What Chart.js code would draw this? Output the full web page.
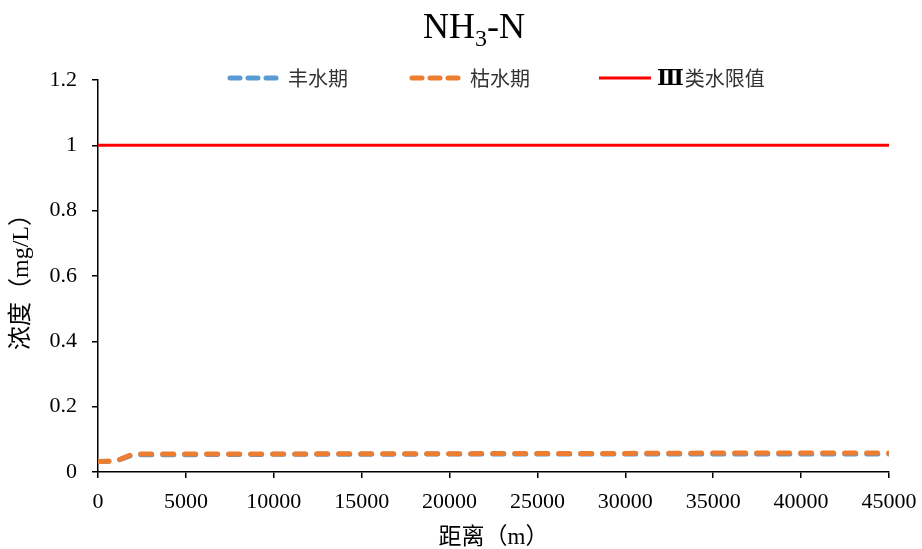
<!DOCTYPE html>
<html>
<head>
<meta charset="utf-8">
<script src="https://cdn.jsdelivr.net/npm/chart.js@4.4.1/dist/chart.umd.min.js"></script>
<style>
  html, body { margin: 0; padding: 0; background: #fff; }
  #wrap { width: 922px; height: 549px; }
</style>
</head>
<body>
<div id="wrap"><canvas id="nh3Chart" width="922" height="549"></canvas></div>
<script>
    // distance along the river (m)
    const distance = [0, 1000, 2000, 5000, 10000, 15000, 20000, 25000, 30000, 35000, 40000, 45000];
    // NH3-N concentration (mg/L)
    const wetSeason = [0.032, 0.033, 0.053, 0.053, 0.054, 0.054, 0.055, 0.055, 0.055, 0.055, 0.055, 0.055];
    const drySeason = [0.032, 0.033, 0.055, 0.055, 0.055, 0.056, 0.056, 0.057, 0.057, 0.058, 0.058, 0.058];
    // class III water quality limit
    const limitX = [0, 45000];
    const limitY = [1, 1];

    const xTicks = [0, 5000, 10000, 15000, 20000, 25000, 30000, 35000, 40000, 45000];
    const yTicks = [0, 0.2, 0.4, 0.6, 0.8, 1, 1.2];

    const seriesNames = ["丰水期", "枯水期", "Ⅲ类水限值"];
    const blue = "#5B9BD5", orange = "#ED7D31", red = "#FF0000";

    const serif = '"Liberation Serif", "Noto Sans CJK SC", serif';

    const pts = (xs, ys) => xs.map((x, i) => ({ x, y: ys[i] }));

    // title with subscript and the legend row are drawn by hand
    const decor = {
        id: "decor",
        afterDraw(chart) {
            const ctx = chart.ctx;
            ctx.save();
            ctx.fillStyle = "#000";
            ctx.textBaseline = "alphabetic";
            const big = "36px " + serif, small = "24px " + serif;
            ctx.font = big;
            const w1 = ctx.measureText("NH").width, w3 = ctx.measureText("-N").width;
            ctx.font = small;
            const w2 = ctx.measureText("3").width;
            let x = 474 - (w1 + w2 + w3) / 2;
            const base = 38;
            ctx.font = big; ctx.fillText("NH", x, base); x += w1;
            ctx.font = small; ctx.fillText("3", x, base + 8); x += w2;
            ctx.font = big; ctx.fillText("-N", x, base);

            const items = [
                { x: 228, color: blue, dash: [10, 8], width: 5, name: seriesNames[0] },
                { x: 410, color: orange, dash: [10, 8], width: 5, name: seriesNames[1] },
                { x: 597, color: red, dash: [], width: 3, name: seriesNames[2] }
            ];
            const ly = 78;
            ctx.textBaseline = "middle";
            items.forEach(it => {
                ctx.beginPath();
                ctx.strokeStyle = it.color;
                ctx.lineWidth = it.width;
                ctx.lineCap = it.dash.length ? "round" : "butt";
                ctx.setLineDash(it.dash);
                ctx.moveTo(it.x + 2, ly);
                ctx.lineTo(it.x + 54, ly);
                ctx.stroke();
                ctx.setLineDash([]);
                ctx.fillStyle = "#333";
                ctx.font = '20px "Noto Sans CJK SC", sans-serif';
                let tx = it.x + 60;
                let text = it.name;
                if (text.startsWith("Ⅲ")) {
                    // roman numeral set in a serif face, bold
                    ctx.font = 'bold 22px "DejaVu Serif", serif';
                    ctx.fillStyle = "#000";
                    ctx.fillText("Ⅲ", tx, ly + 1);
                    tx += ctx.measureText("Ⅲ").width + 1;
                    text = text.slice(1);
                    ctx.font = '20px "Noto Sans CJK SC", sans-serif';
                    ctx.fillStyle = "#333";
                }
                ctx.fillText(text, tx, ly);
            });
            ctx.restore();
        }
    };

    new Chart(document.getElementById("nh3Chart"), {
        type: "line",
        data: {
            datasets: [
                {
                    label: seriesNames[0],
                    data: pts(distance, wetSeason),
                    borderColor: blue,
                    borderWidth: 5,
                    borderDash: [11, 11],
                    borderCapStyle: "round",
                    pointRadius: 0,
                    tension: 0,
                    order: 2
                },
                {
                    label: seriesNames[1],
                    data: pts(distance, drySeason),
                    borderColor: orange,
                    borderWidth: 5,
                    borderDash: [11, 11],
                    borderCapStyle: "round",
                    pointRadius: 0,
                    tension: 0,
                    order: 1
                },
                {
                    label: seriesNames[2],
                    data: pts(limitX, limitY),
                    borderColor: red,
                    borderWidth: 3,
                    pointRadius: 0,
                    order: 0
                }
            ]
        },
        options: {
            responsive: false,
            animation: false,
            layout: { padding: { top: 80, right: 33, left: 0, bottom: 0 } },
            plugins: {
                legend: { display: false },
                title: { display: false },
                tooltip: { enabled: false }
            },
            scales: {
                x: {
                    type: "linear",
                    min: 0,
                    max: 45000,
                    afterFit(scale) {
                        scale.height = 77;
                        // let the last label hang into the right margin
                        scale.paddingRight = 0;
                    },
                    afterBuildTicks(scale) { scale.ticks = xTicks.map(v => ({ value: v })); },
                    border: { color: "#000", width: 1.5 },
                    grid: { drawOnChartArea: false, drawTicks: true, tickLength: 6, color: "#000", lineWidth: 1.5 },
                    ticks: {
                        color: "#000",
                        padding: 11,
                        maxRotation: 0,
                        font: { family: serif, size: 22 },
                        callback: v => String(v)
                    },
                    title: {
                        display: true,
                        text: "距离（m）",
                        color: "#000",
                        font: { family: serif, size: 23, lineHeight: 1 },
                        padding: { top: 0, bottom: 0 }
                    }
                },
                y: {
                    min: 0,
                    max: 1.2,
                    afterFit(scale) { scale.width = 98; },
                    afterBuildTicks(scale) { scale.ticks = yTicks.map(v => ({ value: v })); },
                    border: { color: "#000", width: 1.5 },
                    grid: { drawOnChartArea: false, drawTicks: true, tickLength: 6, color: "#000", lineWidth: 1.5 },
                    ticks: {
                        color: "#000",
                        padding: 15,
                        font: { family: serif, size: 22 },
                        callback: v => String(v)
                    },
                    title: {
                        display: true,
                        text: "浓度（mg/L）",
                        color: "#000",
                        font: { family: serif, size: 24, lineHeight: 1 },
                        padding: { top: 10, bottom: 0 }
                    }
                }
            }
        },
        plugins: [decor]
    });
</script>
</body>
</html>
